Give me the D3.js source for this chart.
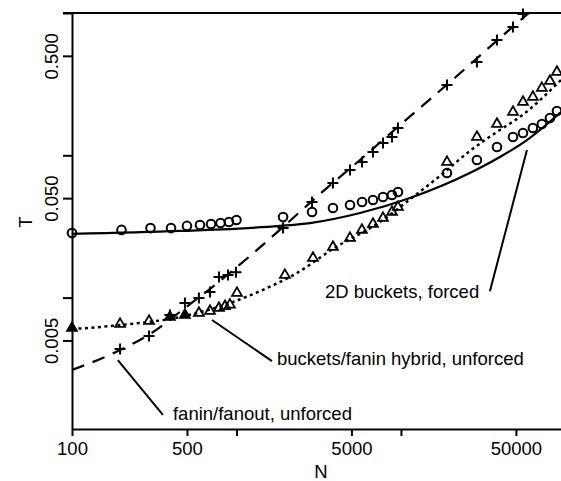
<!DOCTYPE html>
<html>
<head>
<meta charset="utf-8">
<script src="https://cdn.jsdelivr.net/npm/d3@7"></script>
<style>
body { margin: 0; background: #fff; }
svg text { font-family: "Liberation Sans", Arial, Helvetica, sans-serif; fill: #000; }
</style>
</head>
<body>
<svg id="chart" width="561" height="481"></svg>
<script>
// tick values (labels only on the 5's)
var xTicks = [100, 500, 1000, 5000, 10000, 50000];
var xTickLabels = ["100", "500", "", "5000", "", "50000"];
var yTicks = [1, 0.5, 0.1, 0.05, 0.01, 0.005];
var yTickLabels = ["", "0.500", "", "0.050", "", "0.005"];

// 2D buckets, forced (circles + solid fit)
var circleN = [100, 200, 300, 400, 500, 600, 700, 800, 900, 1000, 1920, 2880, 3860, 4900, 5800, 6760, 7780, 8820, 9590, 19050, 28970, 38350, 47990, 55200, 63400, 71900, 80500, 88800];
var circleT = [0.0284, 0.0299, 0.0308, 0.0308, 0.0319, 0.0324, 0.0329, 0.0334, 0.0340, 0.0351, 0.0368, 0.0400, 0.0426, 0.0448, 0.0470, 0.0485, 0.0509, 0.0526, 0.0552, 0.0751, 0.0927, 0.1143, 0.1345, 0.1435, 0.1556, 0.166, 0.183, 0.205];
var solidN = [100, 453, 1837, 2800, 5640, 11350, 26200, 39960, 58300, 94000];
var solidT = [0.0280, 0.0294, 0.0319, 0.0334, 0.0393, 0.0501, 0.0751, 0.0973, 0.128, 0.2015];

// buckets/fanin hybrid, unforced (triangles + dotted fit)
var triN = [100, 196, 294, 394, 486, 591, 690, 783, 851, 913, 1007, 1970, 2920, 3860, 4900, 5790, 6760, 7780, 8820, 9590, 19050, 28970, 38350, 47990, 55200, 63400, 71900, 80500, 88800];
var triT = [0.00611, 0.00652, 0.00685, 0.00731, 0.00755, 0.0078, 0.00805, 0.00845, 0.0087, 0.0089, 0.01077, 0.0144, 0.0190, 0.0227, 0.0262, 0.0299, 0.0329, 0.0362, 0.0400, 0.0433, 0.0897, 0.1345, 0.166, 0.2015, 0.237, 0.257, 0.297, 0.333, 0.385];
var dotN = [100, 196, 486, 913, 1390, 2333, 3862, 7450, 11830, 17260, 26240, 39960, 52850, 93900];
var dotT = [0.00601, 0.00641, 0.00743, 0.00916, 0.0111, 0.0149, 0.0220, 0.0340, 0.0509, 0.0716, 0.1072, 0.1507, 0.186, 0.338];

// fanin/fanout, unforced (plus + dashed fit)
var plusN = [196, 294, 394, 486, 591, 690, 783, 888, 993, 1920, 2880, 3860, 4900, 5800, 6760, 7780, 8820, 9590, 19050, 28970, 38350, 47990, 55200];
var plusT = [0.00435, 0.00537, 0.00755, 0.00916, 0.00993, 0.01094, 0.01396, 0.0144, 0.0151, 0.0308, 0.0470, 0.0639, 0.0788, 0.0897, 0.1055, 0.122, 0.1345, 0.1556, 0.312, 0.453, 0.646, 0.797, 0.984];
var dashN = [100, 196, 298, 486, 794, 1208, 1918, 3219, 5633, 9860, 19850, 39960, 60800];
var dashT = [0.00310, 0.00428, 0.00555, 0.00845, 0.0131, 0.0196, 0.0313, 0.0535, 0.0927, 0.163, 0.327, 0.667, 1.016];

// callouts: text anchor and leader line ends, in data units
var noteText = ["2D buckets, forced", "buckets/fanin hybrid, unforced", "fanin/fanout, unforced"];
var noteAt = [[3450, 0.00994], [1762, 0.00336], [411, 0.00138]];
var noteFrom = [[34750, 0.0111], [710, 0.00696], [190, 0.00364]];
var noteTo = [[58350, 0.109], [1644, 0.00358], [357, 0.0015]];

var svg = d3.select("#chart");
var fontSize = "18.5px";

var x = d3.scaleLog().domain([100, 94000]).range([72, 561]);
var y = d3.scaleLog().domain([0.001193, 1]).range([429, 13]);

svg.append("rect").attr("width", 561).attr("height", 481).attr("fill", "#fff");

svg.append("clipPath").attr("id", "plot")
    .append("rect").attr("x", 72).attr("y", 13).attr("width", 489).attr("height", 416);

// axes
var xAxis = d3.axisBottom(x).tickValues(xTicks)
    .tickFormat(function(d, i) { return xTickLabels[i]; })
    .tickSizeInner(7).tickSizeOuter(0).tickPadding(6);
var gx = svg.append("g").attr("transform", "translate(0,429)").call(xAxis);
gx.selectAll("text").style("font-size", fontSize);

var yAxis = d3.axisLeft(y).tickValues(yTicks)
    .tickFormat(function(d, i) { return yTickLabels[i]; })
    .tickSizeInner(9).tickSizeOuter(0);
var gy = svg.append("g").attr("transform", "translate(72,0)").call(yAxis);
gy.selectAll("text")
    .style("font-size", fontSize)
    .attr("text-anchor", "middle")
    .attr("transform", "rotate(-90)")
    .attr("x", 0).attr("y", -14).attr("dy", 0);

svg.selectAll(".domain, .tick line").attr("stroke", "#000").attr("stroke-width", 2);

// top frame line
svg.append("line").attr("x1", 63).attr("x2", 561)
    .attr("y1", y(1)).attr("y2", y(1))
    .attr("stroke", "#000").attr("stroke-width", 2);

svg.append("text").attr("x", 321).attr("y", 478)
    .attr("text-anchor", "middle").style("font-size", fontSize).text("N");
svg.append("text").attr("transform", "translate(32,222) rotate(-90)")
    .attr("text-anchor", "middle").style("font-size", fontSize).text("T");

// fit lines
function drawLine(ns, ts, dash, width) {
    var pts = ns.map(function(n, i) { return [n, ts[i]]; });
    var line = d3.line()
        .x(function(d) { return x(d[0]); })
        .y(function(d) { return y(d[1]); })
        .curve(d3.curveMonotoneX);
    svg.append("path").datum(pts)
        .attr("clip-path", "url(#plot)")
        .attr("d", line)
        .attr("fill", "none")
        .attr("stroke", "#000")
        .attr("stroke-width", width)
        .attr("stroke-dasharray", dash);
}
drawLine(solidN, solidT, null, 2.2);
drawLine(dotN, dotT, "3,3.5", 2.5);
drawLine(dashN, dashT, "13,9", 2.2);

// markers
svg.append("g").selectAll("circle")
    .data(circleN.map(function(n, i) { return [n, circleT[i]]; }))
    .enter().append("circle")
    .attr("cx", function(d) { return x(d[0]); })
    .attr("cy", function(d) { return y(d[1]); })
    .attr("r", 4.3)
    .attr("fill", "none").attr("stroke", "#000").attr("stroke-width", 2);

var filledTri = [0, 3, 4];
var tri = d3.symbol().type(d3.symbolTriangle).size(42);
svg.append("g").selectAll("path")
    .data(triN.map(function(n, i) { return [n, triT[i]]; }))
    .enter().append("path")
    .attr("d", tri)
    .attr("transform", function(d) { return "translate(" + x(d[0]) + "," + y(d[1]) + ")"; })
    .attr("fill", function(d, i) { return filledTri.indexOf(i) >= 0 ? "#000" : "none"; })
    .attr("stroke", "#000").attr("stroke-width", 1.8);

svg.append("g").selectAll("path")
    .data(plusN.map(function(n, i) { return [n, plusT[i]]; }))
    .enter().append("path")
    .attr("d", "M-5.5,0H5.5M0,-5.5V5.5")
    .attr("transform", function(d) { return "translate(" + x(d[0]) + "," + y(d[1]) + ")"; })
    .attr("fill", "none").attr("stroke", "#000").attr("stroke-width", 2);

// callouts
noteText.forEach(function(t, i) {
    svg.append("line")
        .attr("x1", x(noteFrom[i][0])).attr("y1", y(noteFrom[i][1]))
        .attr("x2", x(noteTo[i][0])).attr("y2", y(noteTo[i][1]))
        .attr("stroke", "#000").attr("stroke-width", 2);
    svg.append("text")
        .attr("x", x(noteAt[i][0])).attr("y", y(noteAt[i][1]))
        .style("font-size", fontSize)
        .text(t);
});
</script>
</body>
</html>
